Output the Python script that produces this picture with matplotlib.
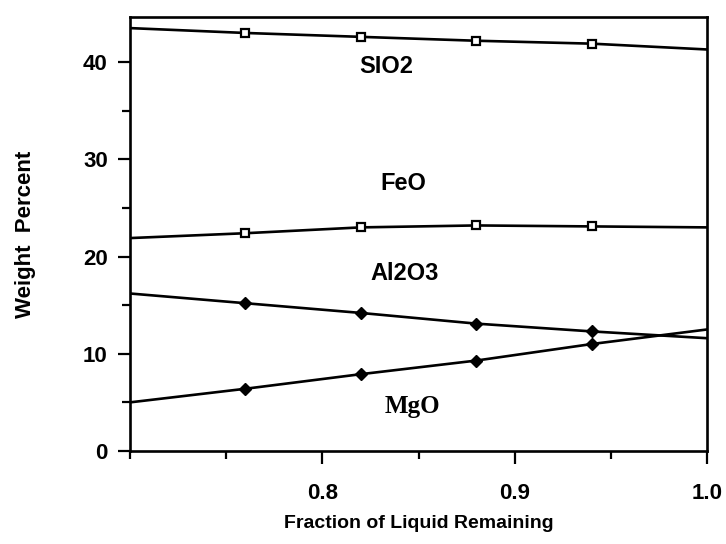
import matplotlib
matplotlib.use("Agg")
import matplotlib.pyplot as plt
from matplotlib.ticker import MultipleLocator

# Fraction of liquid remaining (x) and oxide weight percents
fraction = [0.70, 0.76, 0.82, 0.88, 0.94, 1.00]
sio2 = [43.5, 43.0, 42.6, 42.2, 41.9, 41.3]
feo = [21.9, 22.4, 23.0, 23.2, 23.1, 23.0]
al2o3 = [16.2, 15.2, 14.2, 13.1, 12.3, 11.6]
mgo = [5.0, 6.4, 7.9, 9.3, 11.0, 12.5]

x_ticks = [0.8, 0.9, 1.0]
x_ticklabels = ["0.8", "0.9", "1.0"]
y_ticks = [0, 10, 20, 30, 40]

sans = "Liberation Sans"
serif = "Liberation Serif"

fig = plt.figure(figsize=(7.26, 5.44), dpi=100)
ax = fig.add_axes([0.179, 0.171, 0.795, 0.797])

lw = 1.9
# markers on the interior points only; the line ends carry none
ax.plot(fraction, sio2, color="black", lw=lw, marker="s", ms=6, mfc="white",
        mec="black", mew=1.6, markevery=[1, 2, 3, 4])
ax.plot(fraction, feo, color="black", lw=lw, marker="s", ms=6, mfc="white",
        mec="black", mew=1.6, markevery=[1, 2, 3, 4])
ax.plot(fraction, al2o3, color="black", lw=lw, marker="D", ms=6.5, mfc="black",
        mec="black", markevery=[1, 2, 3, 4])
ax.plot(fraction, mgo, color="black", lw=lw, marker="D", ms=6.5, mfc="black",
        mec="black", markevery=[1, 2, 3, 4])

ax.text(0.833, 39.5, "SIO2", family=sans, weight="bold", fontsize=17, ha="center", va="center")
ax.text(0.842, 27.5, "FeO", family=sans, weight="bold", fontsize=17, ha="center", va="center")
ax.text(0.843, 18.3, "Al2O3", family=sans, weight="bold", fontsize=17, ha="center", va="center")
ax.text(0.847, 4.6, "MgO", family=serif, weight="bold", fontsize=18, ha="center", va="center")

ax.set_xlim(0.7, 1.0)
ax.set_ylim(0, 44.6)
ax.set_xticks(x_ticks)
ax.set_xticklabels(x_ticklabels)
ax.set_yticks(y_ticks)
ax.xaxis.set_minor_locator(MultipleLocator(0.05))
ax.yaxis.set_minor_locator(MultipleLocator(5))

ax.tick_params(axis="both", which="both", direction="out", width=1.6, labelsize=16,
               top=False, right=False)
ax.tick_params(axis="both", which="major", length=9)
ax.tick_params(axis="both", which="minor", length=6)
ax.tick_params(axis="y", pad=7)
ax.tick_params(axis="x", pad=14)
for lab in ax.get_xticklabels() + ax.get_yticklabels():
    lab.set_family(sans)
    lab.set_weight("bold")

for sp in ax.spines.values():
    sp.set_linewidth(1.9)

ax.set_xlabel("Fraction of Liquid Remaining", family=sans, weight="bold", fontsize=14, labelpad=8)
ax.set_ylabel("Weight  Percent", family=sans, weight="bold", fontsize=16, labelpad=34)

fig.savefig("out.png", dpi=100, facecolor="white")
